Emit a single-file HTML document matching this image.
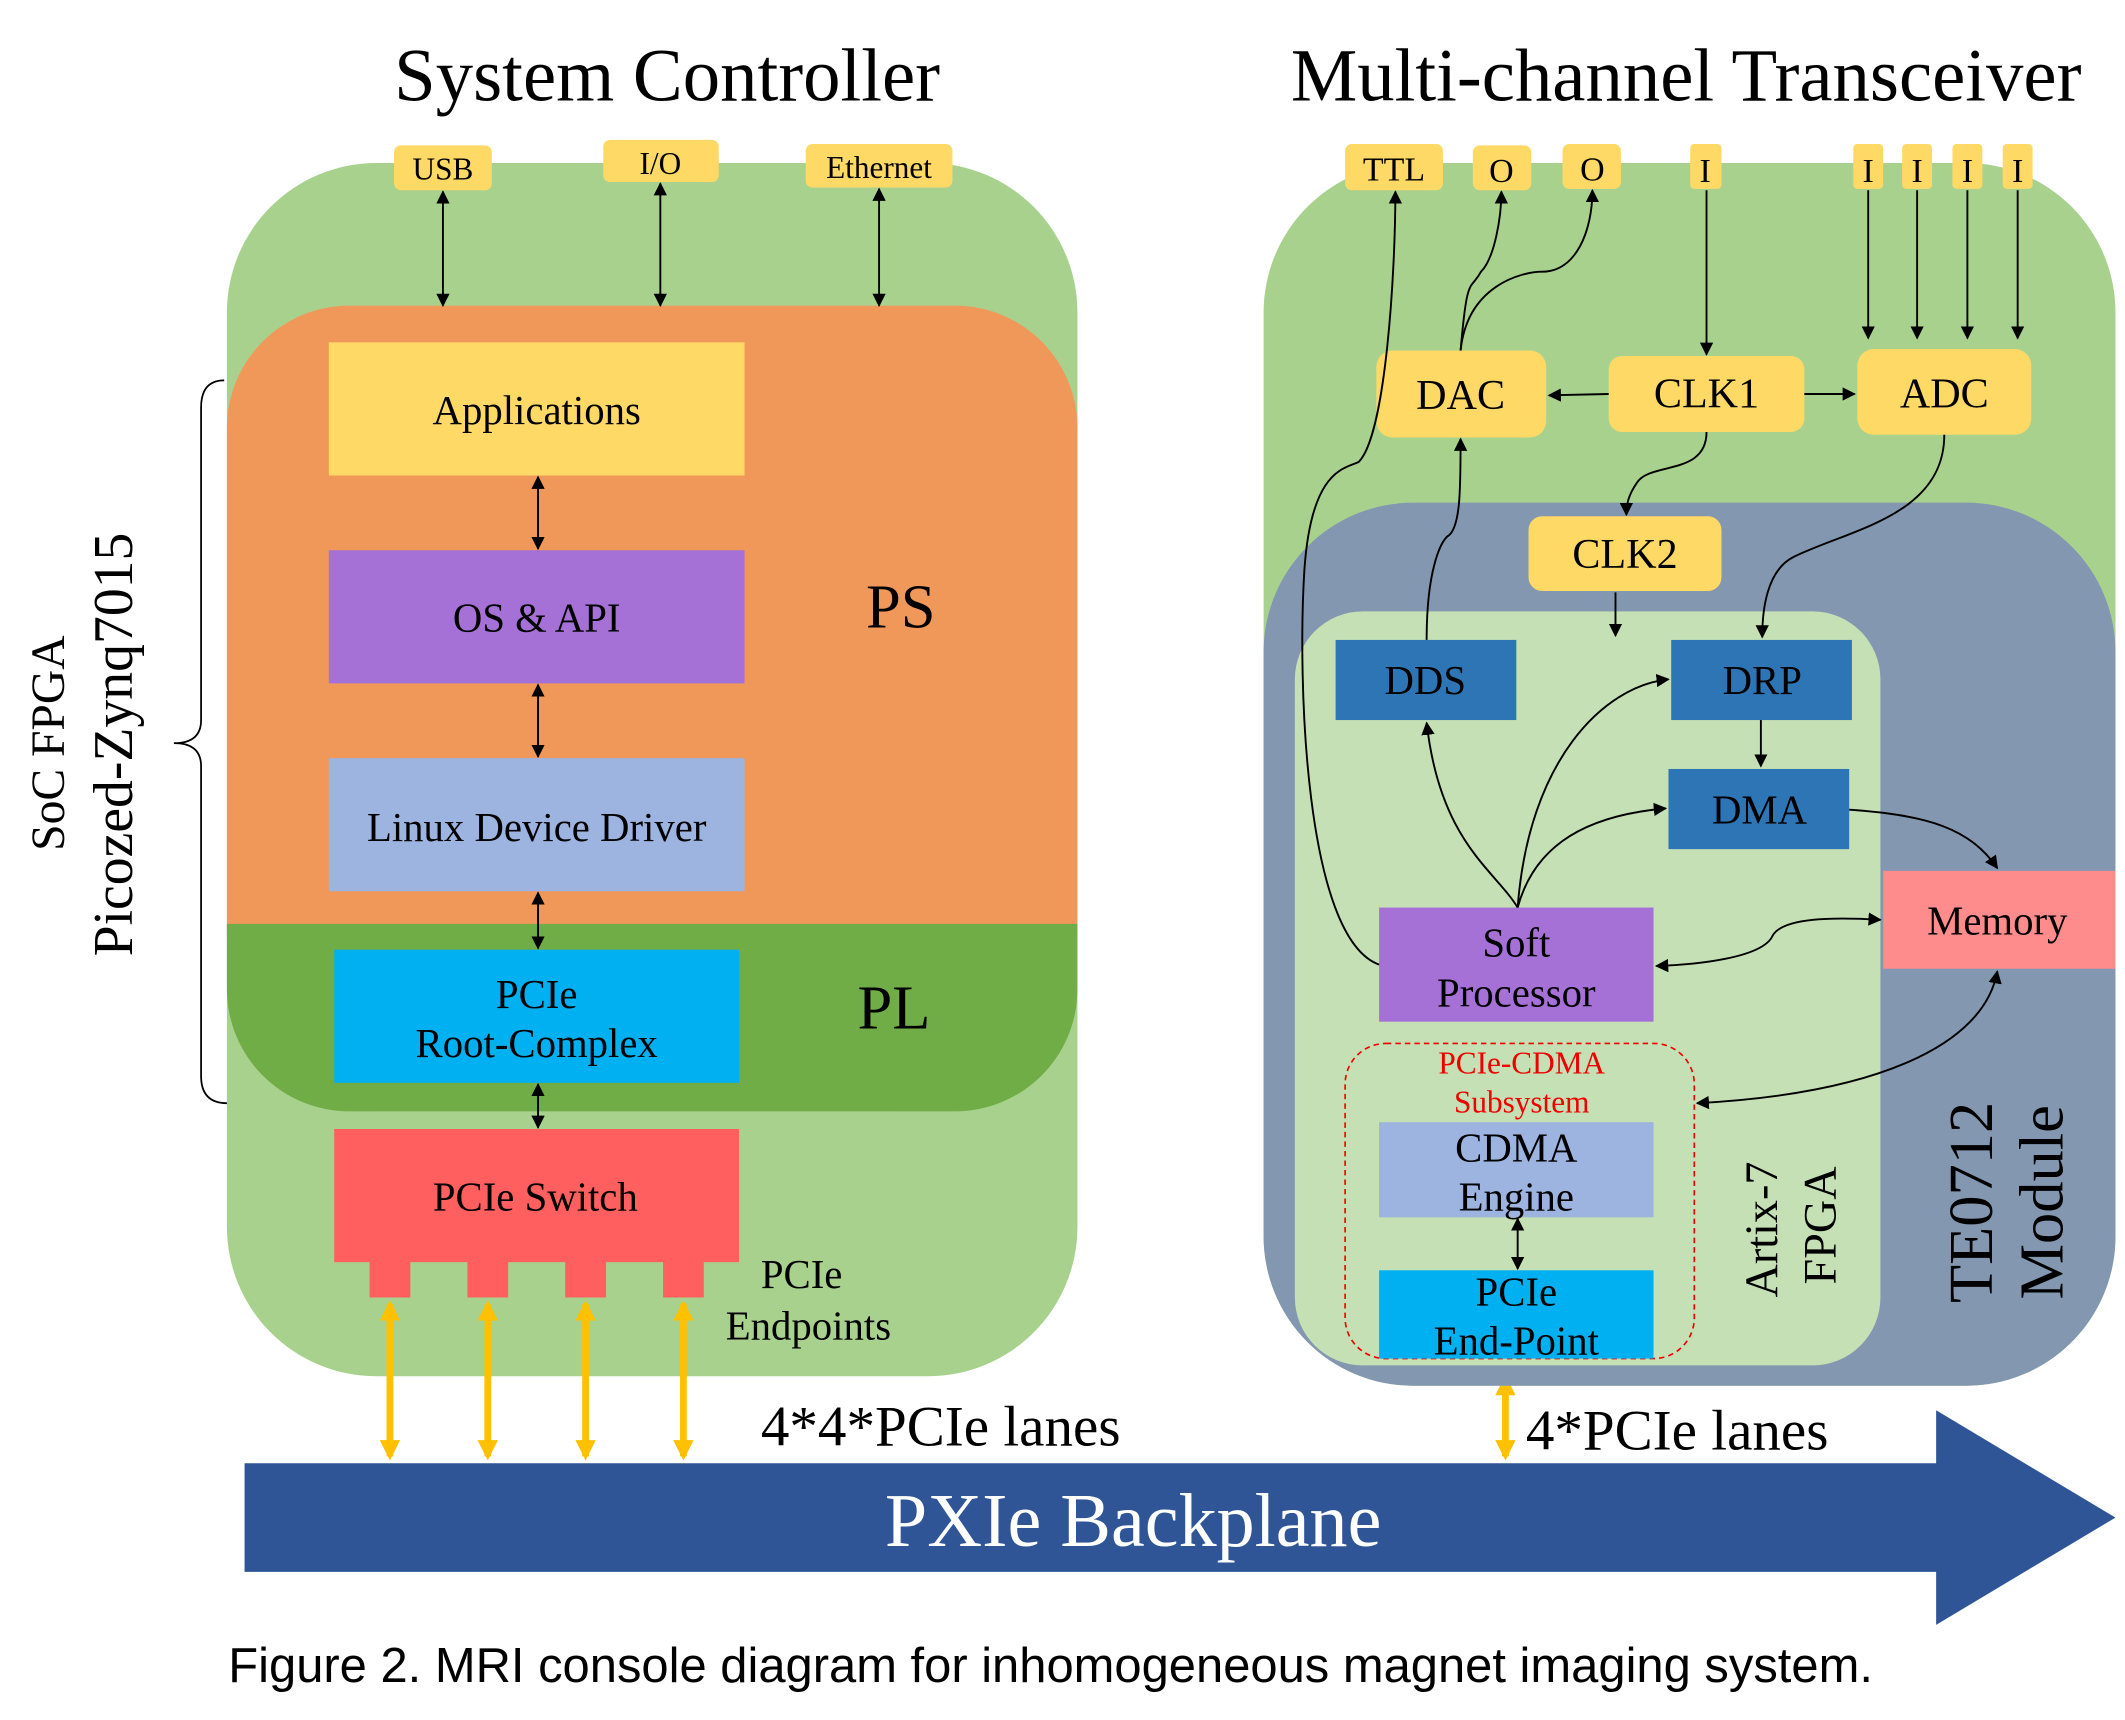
<!DOCTYPE html>
<html><head><meta charset="utf-8"><style>
html,body{margin:0;padding:0;background:#fff;}
svg{display:block;}
text{font-family:"Liberation Serif",serif;fill:#000;}
</style></head><body>
<svg width="2125" height="1720" viewBox="0 0 1564 1266" preserveAspectRatio="none" xmlns="http://www.w3.org/2000/svg">
<defs>
<marker id="a" viewBox="0 0 10 10" refX="9" refY="5" markerWidth="7" markerHeight="7" orient="auto-start-reverse"><path d="M0,0L10,5L0,10z" fill="#000"/></marker>
<marker id="y" viewBox="0 0 10 10" refX="8" refY="5" markerWidth="3" markerHeight="3" orient="auto-start-reverse"><path d="M0,0L10,5L0,10z" fill="#FFC000"/></marker>
</defs>
<text x="491" y="74" font-size="55" text-anchor="middle">System Controller</text>
<text x="1241" y="74" font-size="55" text-anchor="middle">Multi-channel Transceiver</text>

<rect x="167" y="120" width="626" height="893" rx="110" fill="#A9D18E"/>
<path d="M167,315 A90,90 0 0 1 257,225 L703,225 A90,90 0 0 1 793,315 L793,690 L167,690 Z" fill="#F0985A"/>
<path d="M167,680 L793,680 L793,728 A90,90 0 0 1 703,818 L257,818 A90,90 0 0 1 167,728 Z" fill="#70AD47"/>
<rect x="242" y="252" width="306" height="98" fill="#FFD966"/>
<text x="395" y="312" font-size="30" text-anchor="middle">Applications</text>
<rect x="242" y="405" width="306" height="98" fill="#A571D6"/>
<text x="395" y="465" font-size="30" text-anchor="middle">OS &amp; API</text>
<rect x="242" y="558" width="306" height="98" fill="#9DB3E0"/>
<text x="395" y="619" font-size="30" text-anchor="middle">Linux Device Driver</text>
<rect x="246" y="699" width="298" height="98" fill="#00B0F0"/>
<text x="395" y="742" font-size="30" text-anchor="middle">PCIe</text>
<text x="395" y="778" font-size="30" text-anchor="middle">Root-Complex</text>
<rect x="246" y="831" width="298" height="98" fill="#FF5F5F"/>
<text x="394" y="891" font-size="30" text-anchor="middle">PCIe Switch</text>
<g fill="#FF5F5F"><rect x="272" y="928" width="30" height="27"/><rect x="344" y="928" width="30" height="27"/><rect x="416" y="928" width="30" height="27"/><rect x="488" y="928" width="30" height="27"/></g>
<text x="663" y="462" font-size="46" text-anchor="middle">PS</text>
<text x="658" y="757" font-size="46" text-anchor="middle">PL</text>
<text x="590" y="948" font-size="30" text-anchor="middle">PCIe</text>
<text x="595" y="986" font-size="30" text-anchor="middle">Endpoints</text>
<g stroke="#000" stroke-width="1.4" fill="none" marker-start="url(#a)" marker-end="url(#a)">
<line x1="326" y1="141" x2="326" y2="225"/><line x1="486" y1="135" x2="486" y2="225"/><line x1="647" y1="139" x2="647" y2="225"/>
<line x1="396" y1="351" x2="396" y2="404"/><line x1="396" y1="504" x2="396" y2="557"/><line x1="396" y1="657" x2="396" y2="698"/><line x1="396" y1="798" x2="396" y2="830"/>
</g>
<g fill="#FFD966"><rect x="290" y="107" width="72" height="33" rx="5"/><rect x="444" y="103" width="85" height="31" rx="5"/><rect x="593" y="106" width="108" height="32" rx="5"/></g>
<text x="326" y="132" font-size="23" text-anchor="middle">USB</text>
<text x="486" y="128" font-size="23" text-anchor="middle">I/O</text>
<text x="647" y="131" font-size="23" text-anchor="middle">Ethernet</text>
<path d="M165,280 Q148,280 148,300 L148,530 Q148,547 128,547 Q148,547 148,564 L148,792 Q148,812 167,812" fill="none" stroke="#000" stroke-width="1.3"/>
<text transform="translate(47,547) rotate(-90)" font-size="35" text-anchor="middle">SoC FPGA</text>
<text transform="translate(97,548) rotate(-90)" font-size="41" text-anchor="middle">Picozed-Zynq7015</text>
<g stroke="#FFC000" stroke-width="5" marker-start="url(#y)" marker-end="url(#y)">
<line x1="287" y1="960" x2="287" y2="1072"/><line x1="359" y1="960" x2="359" y2="1072"/><line x1="431" y1="960" x2="431" y2="1072"/><line x1="503" y1="960" x2="503" y2="1072"/>
<line x1="1108" y1="1015" x2="1108" y2="1072"/>
</g>

<rect x="930" y="120" width="627" height="900" rx="110" fill="#A9D18E"/>
<rect x="930" y="370" width="627" height="650" rx="110" fill="#8497B0"/>
<rect x="953" y="450" width="431" height="555" rx="50" fill="#C5E0B4"/>
<g fill="#FFD966">
<rect x="990" y="106" width="72" height="34" rx="5"/><rect x="1084" y="107" width="43" height="33" rx="5"/><rect x="1150" y="106" width="43" height="33" rx="5"/>
<rect x="1244" y="106" width="23" height="33" rx="3"/><rect x="1364" y="106" width="22" height="33" rx="3"/><rect x="1400" y="106" width="22" height="33" rx="3"/><rect x="1437" y="106" width="22" height="33" rx="3"/><rect x="1474" y="106" width="22" height="33" rx="3"/>
<rect x="1013" y="258" width="125" height="64" rx="12"/><rect x="1184" y="262" width="144" height="56" rx="10"/><rect x="1367" y="257" width="128" height="63" rx="12"/><rect x="1125" y="380" width="142" height="55" rx="10"/>
</g>
<g font-size="25" text-anchor="middle">
<text x="1026" y="133">TTL</text><text x="1105" y="134">O</text><text x="1172" y="133">O</text>
<text x="1255" y="134">I</text><text x="1375" y="134">I</text><text x="1411" y="134">I</text><text x="1448" y="134">I</text><text x="1485" y="134">I</text>
</g>
<g font-size="31" text-anchor="middle">
<text x="1075" y="301">DAC</text><text x="1256" y="300">CLK1</text><text x="1431" y="300">ADC</text><text x="1196" y="418">CLK2</text>
</g>
<g fill="#2E75B6"><rect x="983" y="471" width="133" height="59"/><rect x="1230" y="471" width="133" height="59"/><rect x="1228" y="566" width="133" height="59"/></g>
<g font-size="30" text-anchor="middle"><text x="1049" y="511">DDS</text><text x="1297" y="511">DRP</text><text x="1295" y="606">DMA</text></g>
<rect x="1386" y="641" width="171" height="72" fill="#FF8C8C"/>
<text x="1470" y="688" font-size="30" text-anchor="middle">Memory</text>
<rect x="1015" y="668" width="202" height="84" fill="#A571D6"/>
<text x="1116" y="704" font-size="30" text-anchor="middle">Soft</text>
<text x="1116" y="741" font-size="30" text-anchor="middle">Processor</text>
<rect x="990" y="768" width="257" height="232" rx="30" fill="none" stroke="#E00" stroke-width="1.2" stroke-dasharray="4,3"/>
<text x="1120" y="790" font-size="23" style="fill:#E00" text-anchor="middle">PCIe-CDMA</text>
<text x="1120" y="819" font-size="23" style="fill:#E00" text-anchor="middle">Subsystem</text>
<rect x="1015" y="826" width="202" height="70" fill="#9DB3E0"/>
<text x="1116" y="855" font-size="30" text-anchor="middle">CDMA</text>
<text x="1116" y="891" font-size="30" text-anchor="middle">Engine</text>
<rect x="1015" y="935" width="202" height="65" fill="#00B0F0"/>
<text x="1116" y="961" font-size="30" text-anchor="middle">PCIe</text>
<text x="1116" y="997" font-size="30" text-anchor="middle">End-Point</text>
<text transform="translate(1308,905) rotate(-90)" font-size="34" text-anchor="middle">Artix-7</text>
<text transform="translate(1351,902) rotate(-90)" font-size="34" text-anchor="middle">FPGA</text>
<text transform="translate(1466,885) rotate(-90)" font-size="46" text-anchor="middle">TE0712</text>
<text transform="translate(1518,885) rotate(-90)" font-size="46" text-anchor="middle">Module</text>

<g stroke="#000" stroke-width="1.4" fill="none" marker-end="url(#a)">
<path d="M1015,710 C960,690 955,500 960,420 C965,345 990,345 1000,340 C1020,320 1027,200 1027,141"/>
<path d="M1075,258 C1080,200 1082,215 1090,200 C1100,190 1105,160 1105,141"/>
<path d="M1075,258 C1080,210 1120,200 1135,200 C1160,200 1172,170 1172,140"/>
<line x1="1256" y1="140" x2="1256" y2="261"/>
<line x1="1375" y1="140" x2="1375" y2="249"/><line x1="1411" y1="140" x2="1411" y2="249"/><line x1="1448" y1="140" x2="1448" y2="249"/><line x1="1485" y1="140" x2="1485" y2="249"/>
<line x1="1184" y1="290" x2="1140" y2="291"/>
<line x1="1328" y1="290" x2="1365" y2="290"/>
<path d="M1256,318 C1256,350 1215,340 1205,355 C1198,365 1197,372 1197,379"/>
<line x1="1189" y1="436" x2="1189" y2="468"/>
<path d="M1431,320 C1431,380 1360,390 1320,410 C1300,420 1297,450 1297,469"/>
<path d="M1050,471 C1050,420 1060,400 1065,395 C1075,390 1075,360 1075,323"/>
<line x1="1296" y1="530" x2="1296" y2="564"/>
<path d="M1117,668 C1100,640 1060,620 1050,532"/>
<path d="M1117,668 C1125,560 1180,505 1228,500"/>
<path d="M1117,668 C1130,620 1170,600 1226,595"/>
<path d="M1361,596 C1420,600 1450,610 1470,639"/>
<path d="M1304,690 C1310,675 1350,675 1384,677"/>
<path d="M1304,690 C1295,705 1250,710 1219,711"/>
<path d="M1470,715 C1460,770 1380,805 1249,812" marker-start="url(#a)"/>
<line x1="1117" y1="897" x2="1117" y2="934" marker-start="url(#a)"/>
</g>

<path d="M180,1077 L1425,1077 L1425,1038 L1557,1117 L1425,1196 L1425,1157 L180,1157 Z" fill="#2F5597"/>
<text x="834" y="1138" font-size="56" text-anchor="middle" style="fill:#fff">PXIe Backplane</text>
<text x="560" y="1064" font-size="42">4*4*PCIe lanes</text>
<text x="1123" y="1067" font-size="42">4*PCIe lanes</text>
<text x="168" y="1238" font-size="36" style="font-family:'Liberation Sans',sans-serif">Figure 2. MRI console diagram for inhomogeneous magnet imaging system.</text>
</svg>
</body></html>
